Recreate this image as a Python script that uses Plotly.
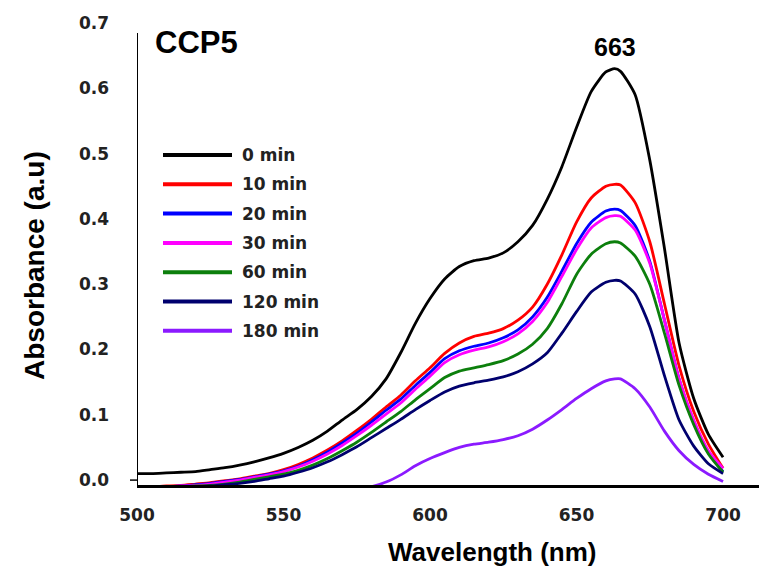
import plotly.graph_objects as go

# ---------------- data ----------------
wavelength = [500, 505, 510, 515, 520, 525, 530, 535, 540, 545, 550, 555, 560, 565, 570,
              575, 580, 585, 590, 595, 600, 605, 610, 615, 620, 625, 630, 635, 640, 645,
              650, 655, 660, 663, 665, 670, 675, 680, 685, 690, 695, 700]

abs_0min = [0.010, 0.010, 0.011, 0.012, 0.013, 0.016, 0.019, 0.023, 0.028, 0.034, 0.041, 0.050,
            0.061, 0.075, 0.092, 0.108, 0.128, 0.155, 0.195, 0.240, 0.278, 0.308, 0.327, 0.336,
            0.340, 0.348, 0.365, 0.390, 0.430, 0.480, 0.540, 0.595, 0.625, 0.630, 0.626, 0.590,
            0.490, 0.355, 0.210, 0.125, 0.070, 0.035]
abs_10min = [-0.010, -0.010, -0.009, -0.008, -0.006, -0.004, -0.001, 0.002, 0.006, 0.010, 0.016,
             0.024, 0.034, 0.046, 0.060, 0.076, 0.093, 0.112, 0.130, 0.152, 0.172, 0.194, 0.210,
             0.220, 0.225, 0.232, 0.245, 0.265, 0.300, 0.345, 0.395, 0.432, 0.450, 0.453, 0.452,
             0.425, 0.365, 0.270, 0.175, 0.105, 0.055, 0.018]
abs_20min = [-0.010, -0.010, -0.010, -0.009, -0.007, -0.005, -0.002, 0.001, 0.005, 0.009, 0.014,
             0.021, 0.031, 0.043, 0.057, 0.072, 0.089, 0.107, 0.124, 0.145, 0.165, 0.186, 0.198,
             0.205, 0.210, 0.218, 0.230, 0.250, 0.280, 0.320, 0.362, 0.395, 0.412, 0.415, 0.413,
             0.390, 0.335, 0.245, 0.155, 0.090, 0.042, 0.013]
abs_30min = [-0.010, -0.010, -0.010, -0.009, -0.008, -0.006, -0.003, 0.000, 0.004, 0.008, 0.013,
             0.020, 0.029, 0.040, 0.053, 0.068, 0.084, 0.101, 0.118, 0.139, 0.159, 0.180, 0.192,
             0.199, 0.204, 0.212, 0.224, 0.243, 0.272, 0.312, 0.353, 0.386, 0.402, 0.405, 0.404,
             0.383, 0.332, 0.245, 0.155, 0.092, 0.045, 0.018]
abs_60min = [-0.010, -0.010, -0.010, -0.010, -0.009, -0.008, -0.006, -0.003, 0.001, 0.005, 0.009,
             0.015, 0.023, 0.033, 0.045, 0.058, 0.073, 0.089, 0.105, 0.123, 0.140, 0.157, 0.167,
             0.172, 0.177, 0.183, 0.193, 0.208, 0.232, 0.270, 0.315, 0.346, 0.362, 0.365, 0.363,
             0.343, 0.300, 0.225, 0.145, 0.085, 0.040, 0.012]
abs_120min = [-0.010, -0.010, -0.010, -0.010, -0.010, -0.009, -0.007, -0.005, -0.002, 0.002, 0.006,
              0.012, 0.019, 0.028, 0.039, 0.051, 0.065, 0.079, 0.093, 0.108, 0.122, 0.135, 0.144,
              0.149, 0.153, 0.158, 0.166, 0.178, 0.195, 0.225, 0.258, 0.288, 0.303, 0.306, 0.305,
              0.285, 0.235, 0.160, 0.092, 0.052, 0.025, 0.010]
abs_180min = [-0.012, -0.012, -0.012, -0.012, -0.012, -0.012, -0.012, -0.012, -0.012, -0.012, -0.012,
              -0.012, -0.012, -0.012, -0.012, -0.011, -0.010, -0.003, 0.008, 0.022, 0.033, 0.042,
              0.050, 0.055, 0.058, 0.062, 0.068, 0.078, 0.092, 0.108, 0.125, 0.140, 0.152, 0.155,
              0.155, 0.140, 0.112, 0.075, 0.045, 0.024, 0.009, -0.002]

series_names = ["0 min", "10 min", "20 min", "30 min", "60 min", "120 min", "180 min"]
series_values = [abs_0min, abs_10min, abs_20min, abs_30min, abs_60min, abs_120min, abs_180min]
series_colors = ["#000000", "#ff0000", "#0000ff", "#ff00ff", "#0c7f0c", "#00006e", "#8b1aff"]

x_tick_vals = [500, 550, 600, 650, 700]
y_tick_vals = [0.0, 0.1, 0.2, 0.3, 0.4, 0.5, 0.6, 0.7]
y_tick_text = ["0.0", "0.1", "0.2", "0.3", "0.4", "0.5", "0.6", "0.7"]

peak_label = "663"
peak_wavelength = 663
sample_title = "CCP5"

# ---------------- figure ----------------
# the page places the figure 8px from the top-left corner (default body margin)
OFF = 8
W, H = 767 - OFF, 573 - OFF
ML, MR, MT, MB = 137 - OFF, 0, 23 - OFF, 88
PW, PH = W - ML - MR, H - MT - MB
X_RANGE = [500, 715]
Y_RANGE = [-0.0075, 0.7]
AXIS_TOP = 0.6845


def px_to_paper_x(px):
    return (px - OFF - ML) / PW


def px_to_paper_y(py):
    return (H - MB - (py - OFF)) / PH


fig = go.Figure()
for name, vals, col in zip(series_names, series_values, series_colors):
    fig.add_trace(go.Scatter(x=wavelength, y=vals, mode="lines", name=name,
                             line=dict(color=col, width=2.8, shape="spline", smoothing=0.6),
                             showlegend=False))

FONT = "Liberation Sans, Arial, sans-serif"
TFONT = "DejaVu Sans, sans-serif"

shapes = []
annotations = []
# y axis line (ends below the 0.7 label)
shapes.append(dict(type="line", xref="x", yref="y", x0=X_RANGE[0], x1=X_RANGE[0],
                   y0=Y_RANGE[0], y1=AXIS_TOP, line=dict(color="black", width=2)))
# small tick at 0.0
shapes.append(dict(type="line", xref="paper", yref="y", x0=px_to_paper_x(130), x1=0,
                   y0=0, y1=0, line=dict(color="black", width=1.5)))

# manual legend
row0, row_gap = 155, 29.3
for i, (name, col) in enumerate(zip(series_names, series_colors)):
    py = row0 + i * row_gap
    shapes.append(dict(type="line", xref="paper", yref="paper",
                       x0=px_to_paper_x(163), x1=px_to_paper_x(232),
                       y0=px_to_paper_y(py), y1=px_to_paper_y(py),
                       line=dict(color=col, width=4)))
    annotations.append(dict(xref="paper", yref="paper", x=px_to_paper_x(240),
                            y=px_to_paper_y(py), text=name, showarrow=False,
                            xanchor="left", yanchor="middle",
                            font=dict(family=TFONT, size=17, color="#222222", weight="bold")))

annotations.append(dict(xref="paper", yref="paper", x=px_to_paper_x(153), y=px_to_paper_y(43),
                        text=sample_title, showarrow=False, xanchor="left", yanchor="middle",
                        font=dict(family=FONT, size=31, color="black", weight="bold")))
annotations.append(dict(xref="x", yref="paper", x=peak_wavelength, y=px_to_paper_y(47),
                        text=peak_label, showarrow=False, xanchor="center", yanchor="middle",
                        font=dict(family=FONT, size=25, color="black", weight="bold")))
annotations.append(dict(xref="paper", yref="paper", x=px_to_paper_x(492), y=px_to_paper_y(552),
                        text="Wavelength (nm)", showarrow=False, xanchor="center",
                        yanchor="middle",
                        font=dict(family=FONT, size=26, color="black", weight="bold")))
annotations.append(dict(xref="paper", yref="paper", x=px_to_paper_x(34), y=px_to_paper_y(266),
                        text="Absorbance (a.u)", showarrow=False, textangle=-90,
                        xanchor="center", yanchor="middle",
                        font=dict(family=FONT, size=28, color="black", weight="bold")))

fig.update_layout(
    width=W, height=H,
    margin=dict(l=ML, r=MR, t=MT, b=MB, pad=0, autoexpand=False),
    paper_bgcolor="white", plot_bgcolor="white",
    shapes=shapes, annotations=annotations,
    xaxis=dict(range=X_RANGE, tickvals=x_tick_vals, showgrid=False, zeroline=False,
               showline=True, linecolor="black", linewidth=2.5, ticks="",
               ticklabelstandoff=13,
               tickfont=dict(family=TFONT, size=17, color="#222222", weight="bold")),
    yaxis=dict(range=Y_RANGE, tickvals=y_tick_vals, ticktext=y_tick_text, showgrid=False,
               zeroline=False, showline=False, ticks="", ticklabelstandoff=27,
               tickfont=dict(family=TFONT, size=17, color="#222222", weight="bold")),
)

fig.write_html("out.html")
